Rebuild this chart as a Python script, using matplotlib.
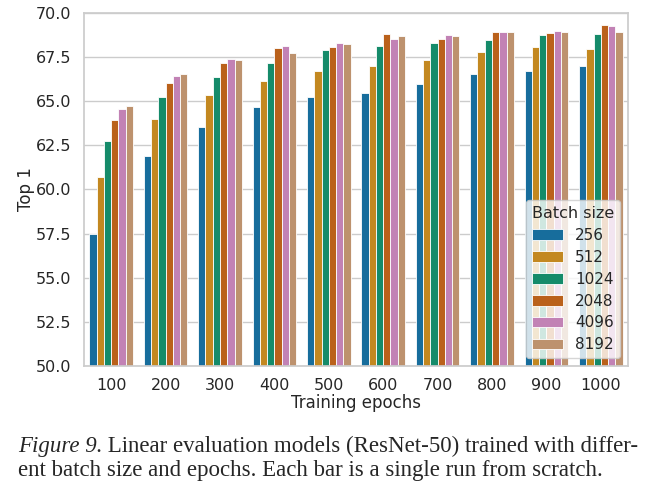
import numpy as np
import pandas as pd
import seaborn as sns
import matplotlib
matplotlib.use("Agg")
import matplotlib.pyplot as plt

epochs = [100, 200, 300, 400, 500, 600, 700, 800, 900, 1000]
batch_sizes = [256, 512, 1024, 2048, 4096, 8192]

# top-1 accuracy per batch size, one value per epoch setting
top1 = {
    256:  [57.47, 61.90, 63.55, 64.70, 65.23, 65.49, 66.00, 66.53, 66.70, 67.00],
    512:  [60.68, 64.00, 65.34, 66.17, 66.70, 66.98, 67.34, 67.77, 68.06, 67.98],
    1024: [62.75, 65.23, 66.40, 67.15, 67.92, 68.11, 68.32, 68.45, 68.77, 68.81],
    2048: [63.92, 66.06, 67.15, 68.02, 68.08, 68.83, 68.53, 68.91, 68.85, 69.32],
    4096: [64.55, 66.43, 67.42, 68.11, 68.28, 68.51, 68.75, 68.91, 69.00, 69.26],
    8192: [64.72, 66.57, 67.34, 67.74, 68.26, 68.68, 68.70, 68.91, 68.94, 68.91],
}

caption_italic = "Figure 9."
caption_line1 = " Linear evaluation models (ResNet-50) trained with differ-"
caption_line2 = "ent batch size and epochs. Each bar is a single run from scratch."

rows = []
for b in batch_sizes:
    for e, v in zip(epochs, top1[b]):
        rows.append({"Training epochs": e, "Top 1": v, "Batch size": b})
df = pd.DataFrame(rows)

sns.set_theme(style="whitegrid")
plt.rcParams["font.family"] = ["DejaVu Sans"]

fig = plt.figure(figsize=(6.58, 4.88), dpi=100)
ax = fig.add_axes([84 / 658, 1 - 366 / 488, (628 - 84) / 658, (366 - 13) / 488])

sns.barplot(data=df, x="Training epochs", y="Top 1", hue="Batch size",
            palette="colorblind", ax=ax, edgecolor="white", linewidth=0.6)
ax.set_ylim(50, 70)
ax.set_yticks(np.arange(50, 70.1, 2.5))
ax.tick_params(labelsize=11.5, pad=3)
ax.set_xlabel("Training epochs", fontsize=12, labelpad=0)
ax.set_ylabel("Top 1", fontsize=12, labelpad=1)
for s in ax.spines.values():
    s.set_color("#cccccc")

leg = ax.legend(title="Batch size", loc="lower right", fontsize=11,
                title_fontsize=11.5, framealpha=0.8, borderaxespad=0.5,
                handlelength=2.0, labelspacing=0.45, borderpad=0.4)

# caption below the chart
fig.canvas.draw()
renderer = fig.canvas.get_renderer()
cap_size = 16.5
t0 = fig.text(18 / 658, 1 - 452 / 488, caption_italic, fontsize=cap_size,
              family="Liberation Serif", style="italic", va="baseline")
bb = t0.get_window_extent(renderer)
fig.text(bb.x1 / fig.bbox.width, 1 - 452 / 488, caption_line1, fontsize=cap_size,
         family="Liberation Serif", va="baseline")
fig.text(18 / 658, 1 - 476 / 488, caption_line2, fontsize=cap_size,
         family="Liberation Serif", va="baseline")

fig.savefig("out.png", dpi=100)
